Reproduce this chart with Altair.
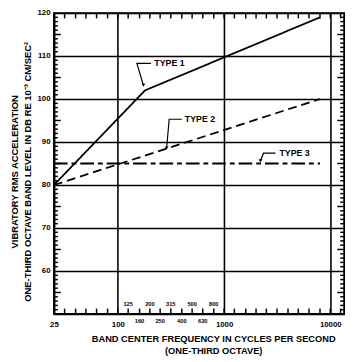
import altair as alt
import pandas as pd

# ---------------- data ----------------
thirds = [25, 31.5, 40, 50, 63, 80, 100, 125, 160, 200, 250, 315, 400, 500,
          630, 800, 1000, 1250, 1600, 2000, 2500, 3150, 4000, 5000, 6300,
          8000, 10000, 12500]
x_main_labels = [25, 100, 1000, 10000]
x_upper_small = [125, 200, 315, 500, 800]
x_lower_small = [160, 250, 400, 630]
y_major = [60, 70, 80, 90, 100, 110, 120]
y_minor = [51, 52, 53, 54, 56, 57, 58, 59, 61, 62, 63, 64, 66, 67, 68, 69,
           71, 72, 73, 74, 76, 77, 78, 79, 81, 82, 83, 84, 86, 87, 88, 89,
           91, 92, 93, 94, 96, 97, 98, 99, 101, 102, 103, 104, 106, 107, 108,
           109, 111, 112, 113, 114, 116, 117, 118, 119]
y_mid = [55, 65, 75, 85, 95, 105, 115]

type1_f = [25, 180, 8000]
type1_db = [80, 102, 119]
type2_f = [25, 8000]
type2_db = [80, 100]
type3_f = [25, 8000]
type3_db = [85, 85]

label_text = ["TYPE 1", "TYPE 2", "TYPE 3"]
label_f = [216, 418, 3250]
label_db = [108.3, 95.3, 87.4]

leader1_f = [205, 151, 174]
leader1_db = [108.3, 108.3, 103.2]
leader2_f = [400, 304, 288]
leader2_db = [95.3, 95.3, 88.6]
leader3_f = [3050, 2350, 2200]
leader3_db = [87.4, 87.4, 85.6]

W, H = 297, 308
FONT = "Liberation Sans"
XMIN, XMAX, YMIN, YMAX = 25, 13500, 50, 120

# tick lengths in data units (5.5 px vertical, 4 / 7 px horizontal)
px_per_db = H / (YMAX - YMIN)
px_per_dec = W / 2.7323938  # log10(13500 / 25)
t5 = round(5.5 / px_per_db, 4)
k3 = 10 ** (4 / px_per_dec)
k6 = 10 ** (7 / px_per_dec)

# ---------------- tables ----------------
rows = []
for name, fs, dbs in [("TYPE 1", type1_f, type1_db),
                      ("TYPE 2", type2_f, type2_db),
                      ("TYPE 3", type3_f, type3_db)]:
    for i, (f, d) in enumerate(zip(fs, dbs)):
        rows.append({"series": name, "f": f, "db": d, "o": i})
lines_df = pd.DataFrame(rows)

lab_df = pd.DataFrame({"f": label_f, "db": label_db, "t": label_text})

lrows = []
for g, fs, dbs in [(1, leader1_f, leader1_db), (2, leader2_f, leader2_db),
                   (3, leader3_f, leader3_db)]:
    for i, (f, d) in enumerate(zip(fs, dbs)):
        lrows.append({"g": g, "f": f, "db": d, "o": i})
lead_df = pd.DataFrame(lrows)
tip_df = lead_df[lead_df["o"] == 2]

# tick segments: one record per tick (start and end point)
tick_sets = []
tick_sets.append([{"f": f, "db": YMAX, "f2": f, "db2": round(YMAX - t5, 4)} for f in thirds])
tick_sets.append([{"f": f, "db": YMIN, "f2": f, "db2": round(YMIN + t5, 4)} for f in thirds])
tick_sets.append([{"f": XMIN, "db": d, "f2": round(XMIN * k3, 4), "db2": d} for d in y_minor])
tick_sets.append([{"f": XMAX, "db": d, "f2": round(XMAX / k3, 2), "db2": d} for d in y_minor])
tick_sets.append([{"f": XMIN, "db": d, "f2": round(XMIN * k6, 4), "db2": d} for d in y_mid])
tick_sets.append([{"f": XMAX, "db": d, "f2": round(XMAX / k6, 2), "db2": d} for d in y_mid])

up_df = pd.DataFrame({"f": x_upper_small, "t": [str(v) for v in x_upper_small]})
up_df["db"] = YMIN
lo_df = pd.DataFrame({"f": x_lower_small, "t": [str(v) for v in x_lower_small]})
lo_df["db"] = YMIN

xs = alt.Scale(type="log", domain=[XMIN, XMAX], nice=False)
ys = alt.Scale(domain=[YMIN, YMAX], nice=False, zero=False)

main = alt.Chart(lines_df).mark_line(color="black", strokeWidth=1.8).encode(
    x=alt.X("f:Q", scale=xs, axis=alt.Axis(
        orient="bottom", values=x_main_labels, format="d", ticks=False,
        labelFont=FONT, labelFontSize=8, labelFontWeight="bold",
        labelColor="black", labelPadding=7, labelFlush=False,
        labelOverlap=False,
        domain=True, domainColor="black", domainWidth=1.8,
        grid=True, gridColor="black", gridWidth=1.6, gridOpacity=1,
        title=["BAND CENTER FREQUENCY IN CYCLES PER SECOND",
               "(ONE-THIRD OCTAVE)"],
        titleFont=FONT, titleFontSize=9.5, titleFontWeight="bold",
        titleColor="black", titleLineHeight=12, titleX=163, titleY=20,
        titleAlign="center", titleBaseline="top")),
    y=alt.Y("db:Q", scale=ys, axis=alt.Axis(
        orient="left", values=y_major, ticks=False,
        labelFont=FONT, labelFontSize=8, labelFontWeight="bold",
        labelColor="black", labelPadding=4,
        domain=True, domainColor="black", domainWidth=1.8,
        grid=True, gridColor="black", gridWidth=1.6, gridOpacity=1,
        title=["VIBRATORY RMS ACCELERATION",
               "ONE-THIRD OCTAVE BAND LEVEL IN DB RE 10\u207B\u00B3 CM/SEC\u00B2"],
        titleFont=FONT, titleFontSize=9.6, titleFontWeight="bold",
        titleColor="black", titleLineHeight=13.5, titleAngle=270,
        titleX=-40, titleY=162, titleAlign="center",
        titleBaseline="middle")),
    strokeDash=alt.StrokeDash("series:N", scale=alt.Scale(
        domain=["TYPE 1", "TYPE 2", "TYPE 3"],
        range=[[1, 0], [9, 5], [14, 4, 5, 4]]), legend=None),
    order="o:Q",
)

X = lambda fld: alt.X(fld, scale=xs)
Y = lambda fld: alt.Y(fld, scale=ys)

# tick layers, inline values, in small chunks
tick_layers = []
for recs in tick_sets:
    for i in range(0, len(recs), 7):
        chunk = recs[i:i + 7]
        tick_layers.append(
            alt.Chart(alt.Data(values=chunk)).mark_rule(
                color="black", strokeWidth=1.5).encode(
                x=X("f:Q"), x2="f2:Q", y=Y("db:Q"), y2="db2:Q"))

small_up = alt.Chart(up_df).mark_text(
    font=FONT, fontSize=5.8, fontWeight="bold", color="black",
    baseline="middle", dy=-10).encode(x=X("f:Q"), y=Y("db:Q"), text="t:N")
small_lo = alt.Chart(lo_df).mark_text(
    font=FONT, fontSize=5.8, fontWeight="bold", color="black",
    baseline="middle", dy=7).encode(x=X("f:Q"), y=Y("db:Q"), text="t:N")

labels = alt.Chart(lab_df).mark_text(
    align="left", baseline="middle", font=FONT, fontSize=9,
    fontWeight="bold", color="black", dx=1).encode(
    x=X("f:Q"), y=Y("db:Q"), text="t:N")

leaders = alt.Chart(lead_df).mark_line(color="black", strokeWidth=1.2).encode(
    x=X("f:Q"), y=Y("db:Q"), detail="g:N", order="o:Q")

tips = alt.Chart(tip_df).mark_point(
    shape="triangle-down", filled=True, color="black", size=14,
    opacity=1).encode(x=X("f:Q"), y=Y("db:Q"))

chart = alt.layer(
    main, *tick_layers, small_up, small_lo, leaders, tips, labels
).properties(
    width=W, height=H,
    autosize=alt.AutoSizeParams(type="none"),
    padding={"left": 47, "right": 6, "top": 1, "bottom": 45},
    background="white",
).configure_view(stroke="black", strokeWidth=1.8)

chart.save("out.html", embed_options={"renderer": "svg", "actions": False})
